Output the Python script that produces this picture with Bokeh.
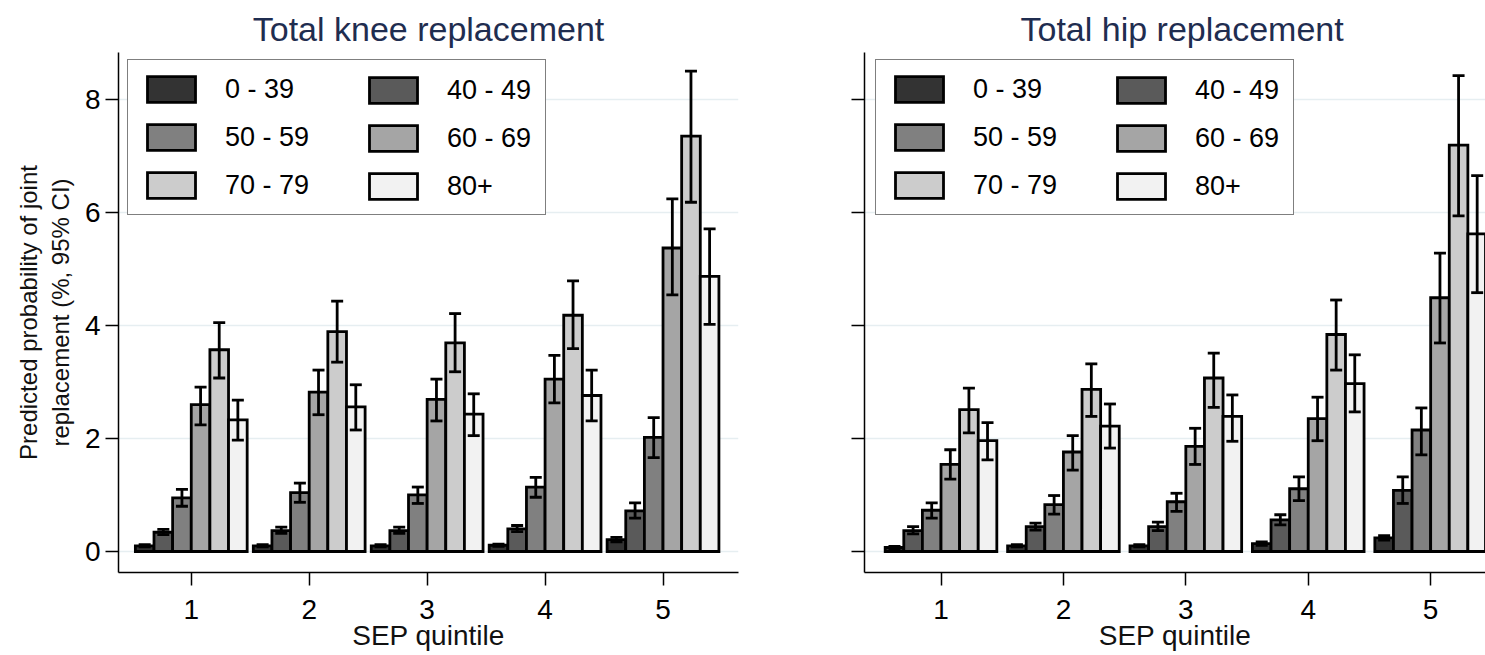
import numpy as np
from bokeh.plotting import figure
from bokeh.models import (ColumnDataSource, Range1d, FixedTicker, Whisker, TeeHead,
                          Legend, LegendItem, CustomLabelingPolicy)
from bokeh.layouts import row
from bokeh.embed import file_html
from bokeh.resources import INLINE

# ---------------- data ----------------
quintiles = [1, 2, 3, 4, 5]
age_groups = ["0 - 39", "40 - 49", "50 - 59", "60 - 69", "70 - 79", "80+"]
colors = ["#333333", "#5a5a5a", "#808080", "#a5a5a5", "#cccccc", "#f2f2f2"]

# Total knee replacement: rows = age groups, cols = SEP quintile 1..5
knee_est = [
    [0.10, 0.10, 0.10, 0.11, 0.21],
    [0.34, 0.37, 0.37, 0.40, 0.72],
    [0.95, 1.04, 1.00, 1.14, 2.02],
    [2.60, 2.82, 2.69, 3.05, 5.37],
    [3.57, 3.89, 3.69, 4.18, 7.35],
    [2.33, 2.56, 2.43, 2.76, 4.87],
]
knee_lo = [
    [0.08, 0.08, 0.08, 0.09, 0.17],
    [0.30, 0.32, 0.32, 0.35, 0.59],
    [0.80, 0.87, 0.85, 0.96, 1.66],
    [2.24, 2.42, 2.31, 2.63, 4.54],
    [3.07, 3.35, 3.18, 3.59, 6.18],
    [1.97, 2.15, 2.05, 2.31, 4.02],
]
knee_hi = [
    [0.12, 0.12, 0.12, 0.13, 0.25],
    [0.39, 0.43, 0.43, 0.46, 0.86],
    [1.10, 1.21, 1.14, 1.31, 2.37],
    [2.91, 3.21, 3.05, 3.47, 6.24],
    [4.05, 4.43, 4.21, 4.79, 8.50],
    [2.68, 2.95, 2.79, 3.21, 5.71],
]

# Total hip replacement
hip_est = [
    [0.07, 0.10, 0.10, 0.14, 0.24],
    [0.37, 0.44, 0.44, 0.56, 1.08],
    [0.73, 0.83, 0.88, 1.11, 2.15],
    [1.54, 1.76, 1.86, 2.35, 4.49],
    [2.51, 2.87, 3.07, 3.84, 7.19],
    [1.96, 2.22, 2.39, 2.97, 5.62],
]
hip_lo = [
    [0.05, 0.08, 0.08, 0.11, 0.20],
    [0.31, 0.38, 0.37, 0.47, 0.85],
    [0.59, 0.66, 0.71, 0.90, 1.71],
    [1.28, 1.44, 1.54, 1.96, 3.69],
    [2.10, 2.39, 2.55, 3.21, 5.94],
    [1.62, 1.83, 1.95, 2.47, 4.58],
]
hip_hi = [
    [0.09, 0.12, 0.12, 0.17, 0.28],
    [0.44, 0.50, 0.52, 0.65, 1.32],
    [0.86, 0.99, 1.03, 1.32, 2.54],
    [1.80, 2.05, 2.18, 2.73, 5.28],
    [2.89, 3.32, 3.51, 4.45, 8.42],
    [2.28, 2.61, 2.77, 3.48, 6.65],
]

y_ticks = [0, 2, 4, 6, 8]
FONT = "Liberation Sans"


def make_panel(title, est, lo, hi, width, border_left, border_right,
               x_start, x_end, bar_w, leg_a_x, leg_b_x, left_panel,
               title_align, title_offset):
    p = figure(width=width, height=655,
               x_range=Range1d(x_start, x_end), y_range=Range1d(-0.372, 8.83),
               output_backend="svg", toolbar_location=None,
               min_border_left=border_left, min_border_right=border_right,
               min_border_top=52, min_border_bottom=83, title=title)
    p.outline_line_color = None
    p.background_fill_color = "white"
    p.border_fill_color = "white"

    # title
    p.title.text_font = FONT
    p.title.text_font_size = "34px"
    p.title.text_font_style = "normal"
    p.title.text_color = "#1f2d50"
    p.title.align = title_align
    p.title.offset = title_offset
    p.title.standoff = 10

    offsets = (np.arange(len(age_groups)) - (len(age_groups) - 1) / 2.0) * bar_w
    rends = []
    for i, age in enumerate(age_groups):
        src = ColumnDataSource(dict(
            x=np.array(quintiles, dtype=float) + offsets[i],
            top=est[i], lo=lo[i], hi=hi[i]))
        r = p.vbar(x="x", top="top", bottom=0, width=bar_w, source=src,
                   fill_color=colors[i], line_color="black", line_width=2.8,
                   line_join="miter")
        rends.append(r)
        w = Whisker(base="x", upper="hi", lower="lo", source=src,
                    line_color="black", line_width=2.8,
                    upper_head=TeeHead(size=12, line_width=2.8, line_color="black"),
                    lower_head=TeeHead(size=12, line_width=2.8, line_color="black"),
                    level="overlay")
        p.add_layout(w)

    # axes
    p.xaxis.ticker = FixedTicker(ticks=quintiles)
    p.yaxis.ticker = FixedTicker(ticks=y_ticks)
    for ax in (p.xaxis[0], p.yaxis[0]):
        ax.axis_line_color = "black"
        ax.axis_line_width = 1.5
        ax.major_tick_line_color = "black"
        ax.major_tick_line_width = 1.5
        ax.major_tick_out = 13
        ax.major_tick_in = 0
        ax.minor_tick_out = 0
        ax.minor_tick_in = 0
        ax.major_label_text_font = FONT
        ax.major_label_text_color = "black"
        ax.axis_label_text_font = FONT
        ax.axis_label_text_font_style = "normal"
        ax.axis_label_text_color = "#111111"

    p.xaxis.major_label_text_font_size = "28px"
    p.xaxis.major_label_standoff = 14
    p.xaxis.axis_label = "SEP quintile"
    p.xaxis.axis_label_text_font_size = "28px"
    p.xaxis.axis_label_standoff = -2

    if left_panel:
        p.yaxis.major_label_text_font_size = "28px"
        p.yaxis.major_label_standoff = 5
        p.yaxis.axis_label = "Predicted probability of joint\nreplacement (%, 95% CI)"
        p.yaxis.axis_label_text_font_size = "24px"
        p.yaxis.axis_label_standoff = 8
    else:
        p.yaxis.major_label_text_font_size = "2px"
        p.yaxis.major_label_standoff = 0
        p.yaxis.major_label_policy = CustomLabelingPolicy(code="""
for (const i of indices) { indices.unset(i) }
return indices
""")

    # grid
    p.xgrid.visible = False
    p.ygrid.ticker = FixedTicker(ticks=y_ticks)
    p.ygrid.grid_line_color = "#e6eef1"
    p.ygrid.grid_line_width = 1.5

    # legend (two columns)
    items = [LegendItem(label=age_groups[i], renderers=[rends[i]]) for i in range(6)]
    common = dict(glyph_width=60, glyph_height=32, label_standoff=24, spacing=16,
                  padding=13, margin=0, label_text_font=FONT,
                  label_text_font_size="27px", label_text_color="black",
                  label_text_baseline="middle")
    leg_a = Legend(items=[items[0], items[2], items[4]], location=(leg_a_x, 357),
                   border_line_color="black", border_line_width=1.5,
                   background_fill_color="white", background_fill_alpha=1.0,
                   label_width=307, **common)
    leg_b = Legend(items=[items[1], items[3], items[5]], location=(leg_b_x, 357),
                   border_line_alpha=0, background_fill_alpha=0, **common)
    p.add_layout(leg_a, "center")
    p.add_layout(leg_b, "center")
    return p


p1 = make_panel("Total knee replacement", knee_est, knee_lo, knee_hi,
                width=844, border_left=118, border_right=106,
                x_start=0.383, x_end=5.64, bar_w=0.158,
                leg_a_x=9, leg_b_x=232, left_panel=True,
                title_align="center", title_offset=0)
p2 = make_panel("Total hip replacement", hip_est, hip_lo, hip_hi,
                width=641, border_left=20, border_right=0,
                x_start=0.375, x_end=5.448, bar_w=0.152,
                leg_a_x=11, leg_b_x=234, left_panel=False,
                title_align="left", title_offset=156)

layout = row(p1, p2)
open("out.html", "w").write(file_html(layout, INLINE))
